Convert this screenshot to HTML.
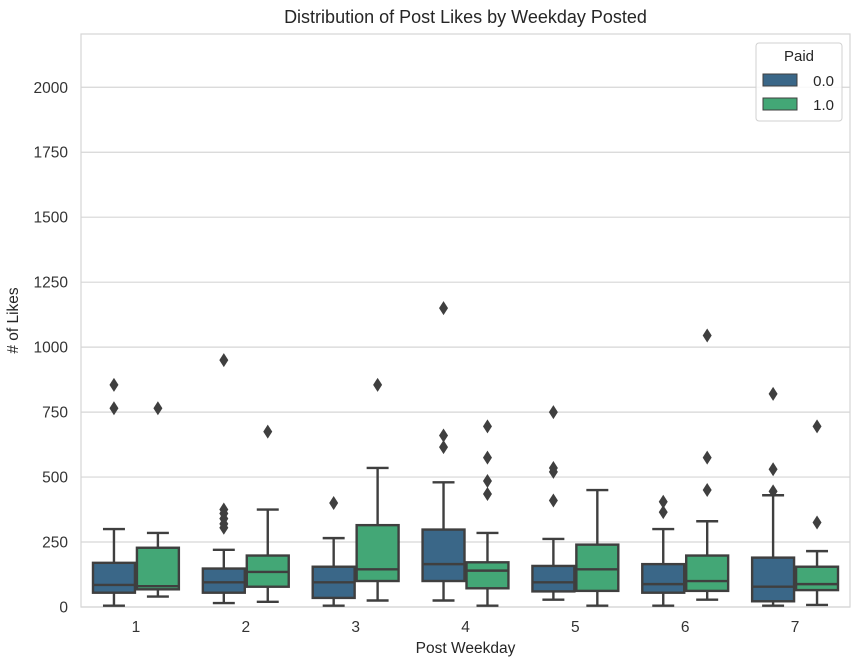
<!DOCTYPE html>
<html><head><meta charset="utf-8"><style>
body{margin:0;background:#fff;font-family:"Liberation Sans",sans-serif}
</style></head><body>
<svg id="c" width="854" height="663" xmlns="http://www.w3.org/2000/svg" font-family="Liberation Sans, sans-serif"></svg>
<script>
const categories=["1","2","3","4","5","6","7"];
const seriesNames=["0.0","1.0"];
// [whiskerLow, q1, median, q3, whiskerHigh]
const stats0=[[5,55,85,170,300],[15,55,95,148,220],[5,35,95,155,265],[25,100,165,298,480],[28,60,95,158,262],[5,55,88,165,300],[5,22,78,190,430]];
const stats1=[[40,68,80,228,285],[20,78,135,198,375],[25,100,145,315,535],[5,72,140,172,285],[5,62,145,240,450],[28,62,100,198,330],[8,65,88,155,215]];
const outliers0=[[765,855],[305,320,340,360,375,950],[400],[615,660,1150],[410,520,535,750],[365,405],[445,530,820]];
const outliers1=[[765],[675],[855],[435,485,575,695],[],[450,575,1045],[325,695]];
const yTicks=[0,250,500,750,1000,1250,1500,1750,2000];
const colors=["#3a6788","#43a776"];
const L=81,R=850,T=34,B=607,YMAX=2205;
const svg=document.getElementById('c');
const NS="http://www.w3.org/2000/svg";
function y(v){return B-(v/YMAX)*(B-T);}
const bw=(R-L)/categories.length;
function xc(i){return L+bw*(i+0.5);}
function mk(t,a,p){const e=document.createElementNS(NS,t);for(const k in a)e.setAttribute(k,a[k]);(p||svg).appendChild(e);return e;}
mk('rect',{x:L,y:T,width:R-L,height:B-T,fill:'#fff',stroke:'#d6d6d6','stroke-width':1.2});
yTicks.forEach(v=>{
 const g=mk('line',{x1:L,x2:R,y1:y(v),y2:y(v),stroke:'#d6d6d6','stroke-width':1.2});
 
 
 const t=mk('text',{x:L-13,y:y(v)+5.5,'text-anchor':'end','font-size':15.5,fill:'#333'});
 t.textContent=v;
 
 
});
categories.forEach((c,i)=>{
 const t=mk('text',{x:xc(i),y:B+25,'text-anchor':'middle','font-size':15.5,fill:'#333'});
 t.textContent=c;
 
 
});
const allStats=[stats0,stats1],allOut=[outliers0,outliers1];
const boxW=bw*0.4;
categories.forEach((c,i)=>{
 [0,1].forEach(s=>{
  const st=allStats[s][i];
  const x0=xc(i)-bw*0.4+s*boxW, cx=x0+boxW/2;
  const g=mk('g',{});
  
  
  const ln={stroke:'#3f3f3f','stroke-width':2.4};
  mk('line',Object.assign({x1:cx,x2:cx,y1:y(st[0]),y2:y(st[1])},ln),g);
  mk('line',Object.assign({x1:cx,x2:cx,y1:y(st[3]),y2:y(st[4])},ln),g);
  mk('line',Object.assign({x1:cx-boxW/4,x2:cx+boxW/4,y1:y(st[0]),y2:y(st[0])},ln),g);
  mk('line',Object.assign({x1:cx-boxW/4,x2:cx+boxW/4,y1:y(st[4]),y2:y(st[4])},ln),g);
  mk('rect',Object.assign({x:x0+1,y:y(st[3]),width:boxW-2,height:y(st[1])-y(st[3]),fill:colors[s]},ln),g);
  mk('line',Object.assign({x1:x0+1,x2:x0+boxW-1,y1:y(st[2]),y2:y(st[2])},ln),g);
  allOut[s][i].forEach(o=>{
   const d=mk('path',{d:`M${cx},${y(o)-7}L${cx+4.5},${y(o)}L${cx},${y(o)+7}L${cx-4.5},${y(o)}Z`,fill:'#3f3f3f'},g);
   
   
  });
 });
});
let t=mk('text',{x:(L+R)/2,y:23,'text-anchor':'middle','font-size':18,fill:'#262626'});t.textContent='Distribution of Post Likes by Weekday Posted';

t=mk('text',{x:(L+R)/2,y:653,'text-anchor':'middle','font-size':15.5,fill:'#262626'});t.textContent='Post Weekday';

t=mk('text',{x:18,y:(T+B)/2,'text-anchor':'middle','font-size':15.5,fill:'#262626',transform:`rotate(-90 18 ${(T+B)/2})`});t.textContent='# of Likes';

const lg=mk('g',{});


mk('rect',{x:756,y:43,width:86,height:78,rx:3,fill:'#fff','fill-opacity':0.85,stroke:'#d0d0d0'},lg);
t=mk('text',{x:799,y:61,'text-anchor':'middle','font-size':15,fill:'#262626'},lg);t.textContent='Paid';
seriesNames.forEach((n,s)=>{
 const r=mk('rect',{x:763,y:74+s*24,width:34,height:12,fill:colors[s],stroke:'#3f3f3f','stroke-width':1},lg);
 
 
 const tx=mk('text',{x:834,y:86+s*24,'text-anchor':'end','font-size':15,fill:'#262626'},lg);tx.textContent=n;
 
 
});
</script>
</body></html>
